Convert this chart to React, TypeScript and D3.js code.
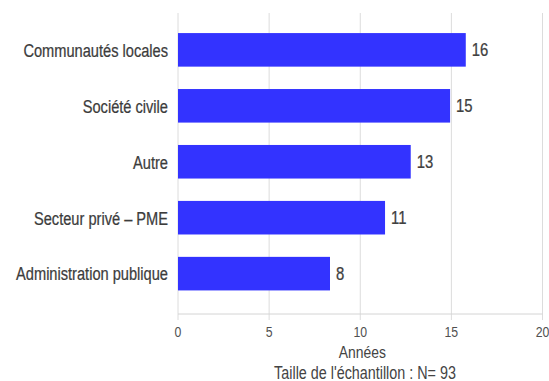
import * as d3 from "d3";
import type { ReactNode } from "react";

const categories = [
  "Communautés locales",
  "Société civile",
  "Autre",
  "Secteur privé – PME",
  "Administration publique",
];
const values = [15.79, 14.93, 12.77, 11.36, 8.34];
const xTicks = [0, 5, 10, 15, 20];
const xTitle = "Années";
const note = "Taille de l'échantillon : N= 93";

const W = 549;
const H = 381;
const margin = { top: 13, right: 6, bottom: 67, left: 178 };
const font = "'Liberation Sans', Arial, sans-serif";

// narrow text: the original uses a condensed face, squeeze Liberation Sans instead
function NText(props: {
  x: number;
  y: number;
  size: number;
  sx: number;
  anchor?: string;
  fill?: string;
  dy?: string;
  heavy?: boolean;
  children: ReactNode;
}) {
  const { x, y, size, sx, anchor = "start", fill = "#444", dy, heavy, children } = props;
  return (
    <text
      transform={`translate(${x},${y}) scale(${sx},1)`}
      dy={dy}
      fontSize={size}
      textAnchor={anchor}
      fill={fill}
      stroke={heavy ? fill : "none"}
      strokeWidth={heavy ? 0.25 : 0}
    >
      {children}
    </text>
  );
}

export default function App() {
  const x = d3
    .scaleLinear()
    .domain([0, 20])
    .range([margin.left, W - margin.right - 0.5]);
  const y = d3
    .scaleBand<string>()
    .domain(categories)
    .range([margin.top, H - margin.bottom])
    .paddingInner(0.4)
    .paddingOuter(0.39)
    .align(0.46);
  const fmt = d3.format(".0f");
  const yBottom = H - margin.bottom;

  return (
    <svg
      width={W}
      height={H}
      style={{ position: "absolute", left: 0, top: 0, background: "#fff" }}
      fontFamily={font}
    >
      {xTicks.map((t) => (
        <line
          key={t}
          x1={x(t)}
          x2={x(t)}
          y1={margin.top}
          y2={yBottom + 6}
          stroke="#dcdcdc"
          strokeWidth={1}
        />
      ))}
      <line
        x1={x(0)}
        x2={x(20)}
        y1={yBottom}
        y2={yBottom}
        stroke="#d4d4d4"
        strokeWidth={1}
      />
      {categories.map((c, i) => (
        <g key={c}>
          <rect
            x={x(0)}
            y={y(c)!}
            width={x(values[i]) - x(0)}
            height={y.bandwidth()}
            fill="#3333ff"
          />
          <NText
            x={x(values[i]) + 6}
            y={y(c)! + y.bandwidth() / 2}
            dy="0.36em"
            size={17.5}
            sx={0.85}
            fill="#404040"
            heavy
          >
            {fmt(values[i])}
          </NText>
          <NText
            x={margin.left - 10}
            y={y(c)! + y.bandwidth() / 2}
            dy="0.36em"
            size={19}
            sx={0.77}
            anchor="end"
            fill="#3c3c3c"
            heavy
          >
            {c}
          </NText>
        </g>
      ))}
      {xTicks.map((t) => (
        <NText
          key={t}
          x={x(t)}
          y={yBottom + 23}
          size={15}
          sx={0.82}
          anchor="middle"
          fill="#505050"
        >
          {t}
        </NText>
      ))}
      <NText x={(x(0) + x(20)) / 2 + 2} y={358} size={17} sx={0.82} anchor="middle" fill="#444">
        {xTitle}
      </NText>
      <NText x={365} y={379} size={17.5} sx={0.82} anchor="middle" fill="#444">
        {note}
      </NText>
    </svg>
  );
}
